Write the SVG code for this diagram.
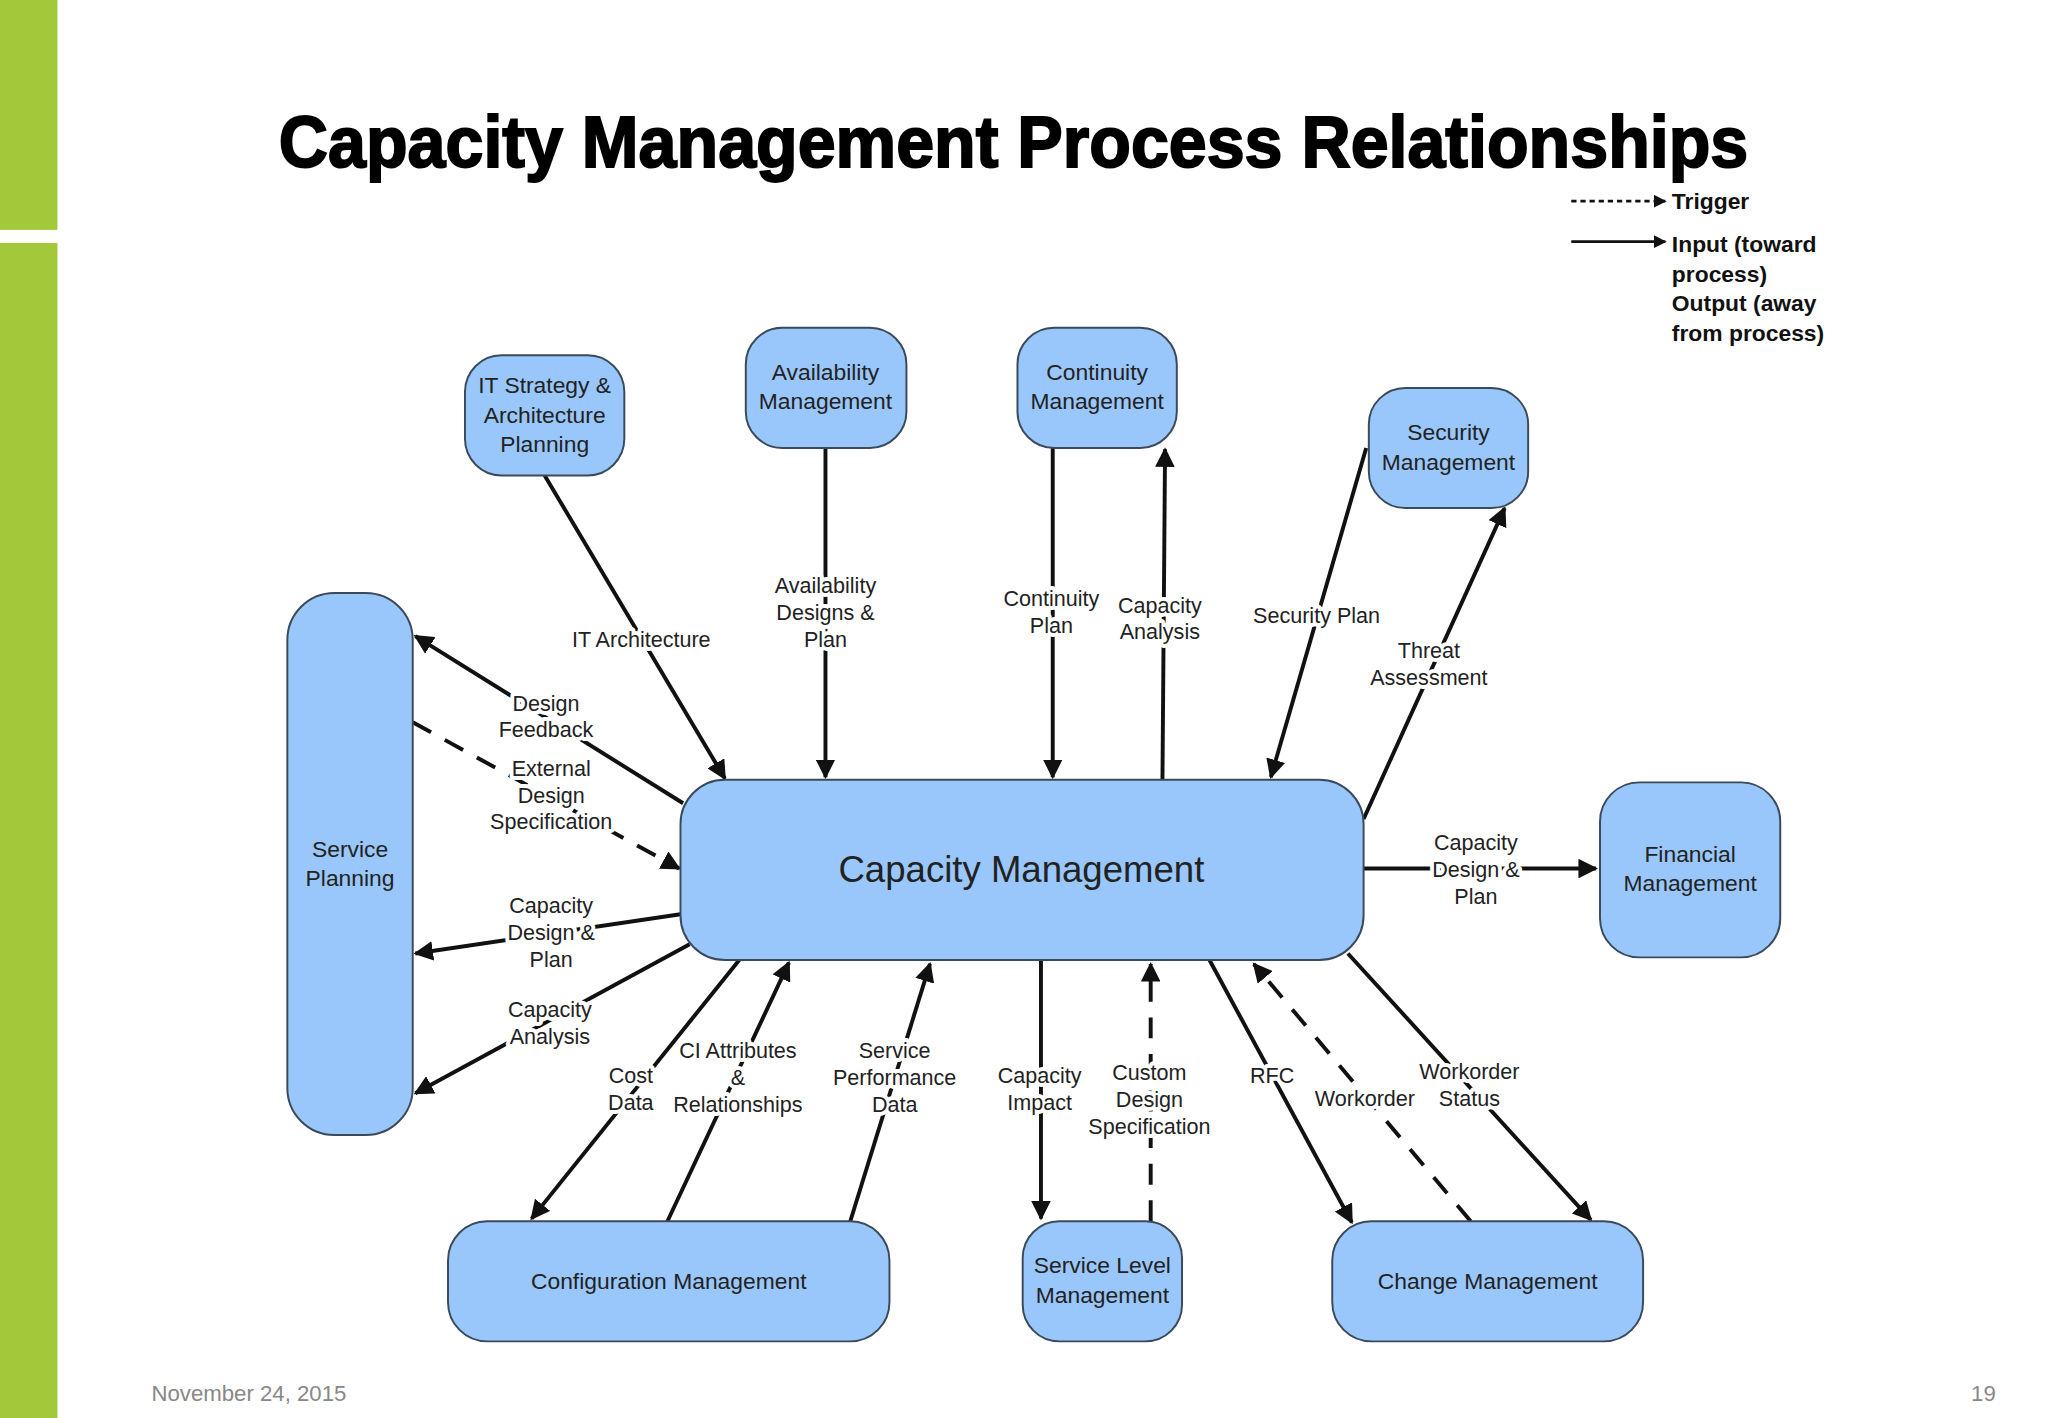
<svg xmlns="http://www.w3.org/2000/svg" width="2048" height="1418" viewBox="0 0 2048 1418">
<defs>
<style>
.n{fill:#99c7fb;stroke:#3a4a5a;stroke-width:1.5}
.t{font-family:"Liberation Sans",Arial,sans-serif;font-size:17.5px;fill:#222;text-anchor:middle}
.l{font-family:"Liberation Sans",Arial,sans-serif;font-size:16.5px;fill:#222;text-anchor:middle;paint-order:stroke;stroke:#fff;stroke-width:6px;stroke-linejoin:round}
.c{stroke:#111;stroke-width:3;fill:none;marker-end:url(#a)}
.d{stroke-dasharray:16 12}
.lg{font-family:"Liberation Sans",Arial,sans-serif;font-size:17.5px;font-weight:bold;fill:#111}
</style>
<marker id="a" viewBox="0 0 10 10" refX="9" refY="5" markerWidth="5" markerHeight="5" orient="auto" markerUnits="strokeWidth"><path d="M0,0L10,5L0,10z" fill="#111"/></marker>
</defs>
<rect width="2048" height="1418" fill="#fff"/>
<g transform="scale(1.30612)">
<rect x="0" y="0" width="44" height="176" fill="#a3c93a"/>
<rect x="0" y="186" width="44" height="900" fill="#a3c93a"/>
<text x="776" y="128" font-family="Liberation Sans,Arial,sans-serif" font-weight="bold" font-size="56" text-anchor="middle" textLength="1125" lengthAdjust="spacingAndGlyphs" fill="#000" stroke="#000" stroke-width="1.5">Capacity Management Process Relationships</text>
<g id="legend">
<line x1="1203" y1="154" x2="1275" y2="154" class="c d" style="stroke-dasharray:4 3;stroke-width:2"/>
<line x1="1203" y1="185" x2="1275" y2="185" class="c" style="stroke-width:2"/>
<text x="1280" y="160" class="lg">Trigger</text>
<text x="1280" y="193" class="lg">Input (toward</text>
<text x="1280" y="216" class="lg">process)</text>
<text x="1280" y="238" class="lg">Output (away</text>
<text x="1280" y="261" class="lg">from process)</text>
</g>
<g id="connectors">
<line x1="417" y1="364" x2="555" y2="596" class="c"/>
<line x1="632" y1="343" x2="632" y2="595" class="c"/>
<line x1="806" y1="343" x2="806" y2="595" class="c"/>
<line x1="890" y1="598" x2="892" y2="344" class="c"/>
<line x1="1046" y1="343" x2="973" y2="595" class="c"/>
<line x1="1044" y1="627" x2="1152" y2="389" class="c"/>
<line x1="523" y1="615" x2="318" y2="487" class="c"/>
<line x1="316" y1="553" x2="520" y2="665" class="c d"/>
<line x1="521" y1="700" x2="318" y2="730" class="c"/>
<line x1="528" y1="723" x2="318" y2="837" class="c"/>
<line x1="566" y1="735" x2="407" y2="933" class="c"/>
<line x1="511" y1="935" x2="604" y2="737" class="c"/>
<line x1="651" y1="935" x2="712" y2="738" class="c"/>
<line x1="797" y1="735" x2="797" y2="933" class="c"/>
<line x1="881" y1="935" x2="881" y2="738" class="c d"/>
<line x1="926" y1="735" x2="1035" y2="936" class="c"/>
<line x1="1126" y1="935" x2="960" y2="738" class="c d"/>
<line x1="1032" y1="730" x2="1218" y2="934" class="c"/>
<line x1="1044" y1="665" x2="1222" y2="665" class="c"/>
</g>
<g id="labels">
<text class="l" x="491" y="495">IT Architecture</text>
<text class="l" x="632" y="454">Availability<tspan x="632" dy="20.5">Designs &amp;</tspan><tspan x="632" dy="20.5">Plan</tspan></text>
<text class="l" x="805" y="464">Continuity<tspan x="805" dy="21">Plan</tspan></text>
<text class="l" x="888" y="469">Capacity<tspan x="888" dy="20.5">Analysis</tspan></text>
<text class="l" x="1008" y="477">Security Plan</text>
<text class="l" x="1094" y="504">Threat<tspan x="1094" dy="20.5">Assessment</tspan></text>
<text class="l" x="418" y="544">Design<tspan x="418" dy="20.5">Feedback</tspan></text>
<text class="l" x="422" y="594">External<tspan x="422" dy="20.5">Design</tspan><tspan x="422" dy="20.5">Specification</tspan></text>
<text class="l" x="422" y="699">Capacity<tspan x="422" dy="20.5">Design &amp;</tspan><tspan x="422" dy="20.5">Plan</tspan></text>
<text class="l" x="421" y="779">Capacity<tspan x="421" dy="20.5">Analysis</tspan></text>
<text class="l" x="483" y="829">Cost<tspan x="483" dy="20.5">Data</tspan></text>
<text class="l" x="565" y="810">CI Attributes<tspan x="565" dy="20.5">&amp;</tspan><tspan x="565" dy="20.5">Relationships</tspan></text>
<text class="l" x="685" y="810">Service<tspan x="685" dy="20.5">Performance</tspan><tspan x="685" dy="20.5">Data</tspan></text>
<text class="l" x="796" y="829">Capacity<tspan x="796" dy="20.5">Impact</tspan></text>
<text class="l" x="880" y="827">Custom<tspan x="880" dy="20.5">Design</tspan><tspan x="880" dy="20.5">Specification</tspan></text>
<text class="l" x="974" y="829">RFC</text>
<text class="l" x="1045" y="847">Workorder</text>
<text class="l" x="1125" y="826">Workorder<tspan x="1125" dy="20.5">Status</tspan></text>
<text class="l" x="1130" y="651">Capacity<tspan x="1130" dy="20.5">Design &amp;</tspan><tspan x="1130" dy="20.5">Plan</tspan></text>
</g>
<g id="it-strategy"><rect class="n" x="356" y="272" width="122" height="92" rx="28"/><text class="t" x="417" y="301">IT Strategy &amp;<tspan x="417" dy="22.5">Architecture</tspan><tspan x="417" dy="22.5">Planning</tspan></text></g>
<g id="availability"><rect class="n" x="571" y="251" width="123" height="92" rx="28"/><text class="t" x="632" y="291">Availability<tspan x="632" dy="22.5">Management</tspan></text></g>
<g id="continuity"><rect class="n" x="779" y="251" width="122" height="92" rx="28"/><text class="t" x="840" y="291">Continuity<tspan x="840" dy="22.5">Management</tspan></text></g>
<g id="security"><rect class="n" x="1048" y="297" width="122" height="92" rx="28"/><text class="t" x="1109" y="337">Security<tspan x="1109" dy="22.5">Management</tspan></text></g>
<g id="service-planning"><rect class="n" x="220" y="454" width="96" height="415" rx="36"/><text class="t" x="268" y="656">Service<tspan x="268" dy="22.5">Planning</tspan></text></g>
<g id="capacity"><rect class="n" x="521" y="597" width="523" height="138" rx="34"/><text class="t" x="782" y="675" style="font-size:28px">Capacity Management</text></g>
<g id="financial"><rect class="n" x="1225" y="599" width="138" height="134" rx="30"/><text class="t" x="1294" y="660">Financial<tspan x="1294" dy="22.5">Management</tspan></text></g>
<g id="configuration"><rect class="n" x="343" y="935" width="338" height="92" rx="30"/><text class="t" x="512" y="987">Configuration Management</text></g>
<g id="slm"><rect class="n" x="783" y="935" width="122" height="92" rx="28"/><text class="t" x="844" y="975">Service Level<tspan x="844" dy="22.5">Management</tspan></text></g>
<g id="change"><rect class="n" x="1020" y="935" width="238" height="92" rx="30"/><text class="t" x="1139" y="987">Change Management</text></g>
<text x="116" y="1073" font-family="Liberation Sans,Arial,sans-serif" font-size="17" fill="#888">November 24, 2015</text>
<text x="1528" y="1073" font-family="Liberation Sans,Arial,sans-serif" font-size="17" fill="#888" text-anchor="end">19</text>
</g>
</svg>
